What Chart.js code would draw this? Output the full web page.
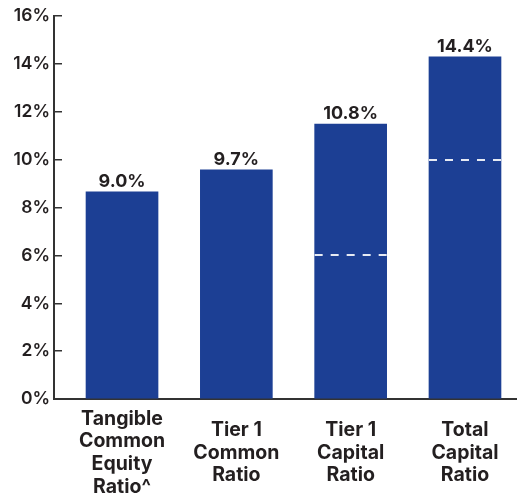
<!DOCTYPE html>
<html>
<head>
<meta charset="utf-8">
<title>Capital Ratios</title>
<script src="https://cdn.jsdelivr.net/npm/chart.js@4.4.0/dist/chart.umd.min.js"></script>
<style>
  html, body { margin: 0; padding: 0; background: #fff; overflow: hidden; }
  #wrap { width: 517px; height: 495px; position: relative; }
</style>
</head>
<body>
<div id="wrap"><canvas id="ratioChart"></canvas></div>
<script>
// values
const categories = [
    ['Tangible', 'Common', 'Equity', 'Ratio^'],
    ['Tier 1', 'Common', 'Ratio'],
    ['Tier 1', 'Capital', 'Ratio'],
    ['Total', 'Capital', 'Ratio']
];
const barValues = [8.65, 9.57, 11.49, 14.29];
const valueLabels = ['9.0%', '9.7%', '10.8%', '14.4%'];
const thresholds = [null, null, 6, 10];   // dashed "well capitalized" marks
const yTicks = [0, 2, 4, 6, 8, 10, 12, 14, 16];

const FONT = 'Inter, "Open Sans", sans-serif';
const INK = '#231f20';
const BAR_BLUE = '#1c3f94';

// value labels above each bar
const valueLabelPlugin = {
    id: 'valueLabels',
    afterDatasetsDraw(chart) {
        const ctx = chart.ctx;
        const meta = chart.getDatasetMeta(0);
        ctx.save();
        ctx.font = '700 18px ' + FONT;
        ctx.fillStyle = INK;
        ctx.textAlign = 'center';
        ctx.textBaseline = 'alphabetic';
        meta.data.forEach((bar, i) => {
            ctx.fillText(valueLabels[i], bar.x, bar.y - 5);
        });
        ctx.restore();
    }
};

// dashed threshold lines inside bars
const thresholdPlugin = {
    id: 'thresholds',
    afterDatasetsDraw(chart) {
        const ctx = chart.ctx;
        const yScale = chart.scales.y;
        const meta = chart.getDatasetMeta(0);
        ctx.save();
        ctx.strokeStyle = '#e6eaf3';
        ctx.lineWidth = 2;
        ctx.setLineDash([8, 8]);
        meta.data.forEach((bar, i) => {
            if (thresholds[i] == null) return;
            const y = Math.round(yScale.getPixelForValue(thresholds[i]));
            ctx.beginPath();
            ctx.moveTo(bar.x - bar.width / 2, y);
            ctx.lineTo(bar.x + bar.width / 2, y);
            ctx.stroke();
        });
        ctx.restore();
    }
};

new Chart(document.getElementById('ratioChart'), {
    type: 'bar',
    data: {
        datasets: [{
            data: barValues.map((v, i) => ({ x: i, y: v })),
            backgroundColor: BAR_BLUE,
            borderWidth: 0,
            barThickness: 72
        }]
    },
    options: {
        responsive: true,
        maintainAspectRatio: false,
        animation: false,
        events: [],
        layout: { padding: { top: 16, right: 0, bottom: 0, left: 0 } },
        plugins: {
            legend: { display: false },
            tooltip: { enabled: false }
        },
        scales: {
            x: {
                type: 'linear',
                offset: false,
                min: -0.595,
                max: 3.455,
                afterFit: s => { s.height = 96; s.paddingLeft = 0; s.paddingRight = 0; },
                afterBuildTicks: s => { s.ticks = categories.map((c, i) => ({ value: i })); },
                grid: { display: false },
                border: { display: true, color: '#333', width: 2 },
                ticks: {
                    autoSkip: false,
                    maxRotation: 0,
                    crossAlign: 'center',
                    padding: 12,
                    color: INK,
                    font: { family: FONT, size: 19.5, weight: '700', lineHeight: 1.16 },
                    callback: v => categories[v]
                }
            },
            y: {
                min: 0,
                max: 16,
                afterFit: s => { s.width = 54; s.paddingTop = 0; s.paddingBottom = 0; },
                afterBuildTicks: s => { s.ticks = yTicks.map(v => ({ value: v })); },
                grid: {
                    drawOnChartArea: false,
                    drawTicks: true,
                    tickLength: -8,
                    tickColor: '#333',
                    lineWidth: 1.5
                },
                border: { display: true, color: '#333', width: 2 },
                ticks: {
                    padding: 12,
                    color: INK,
                    font: { family: FONT, size: 17.5, weight: '600' },
                    callback: v => v + '%'
                }
            }
        }
    },
    plugins: [valueLabelPlugin, thresholdPlugin]
});
</script>
</body>
</html>
